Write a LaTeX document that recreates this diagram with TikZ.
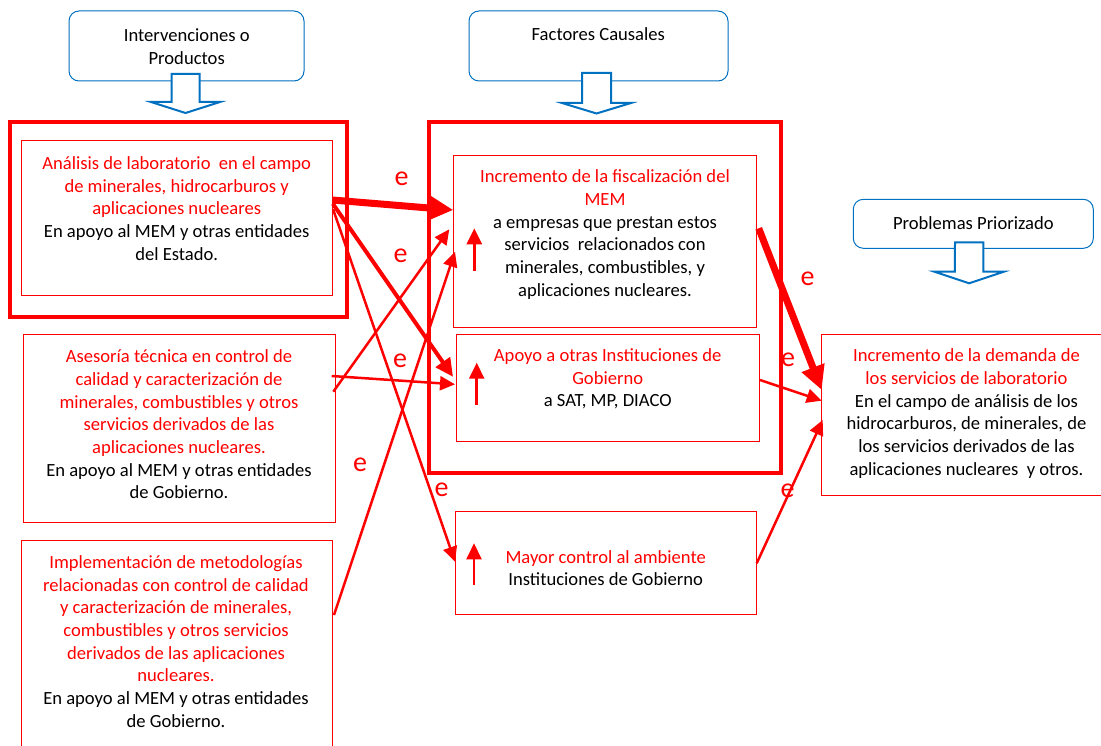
\documentclass[tikz,border=0pt]{standalone}
\usepackage{fontspec}
\setmainfont{Carlito}
\usetikzlibrary{arrows.meta,calc}
\definecolor{hdrblue}{RGB}{0,112,192}
\begin{document}
\begin{tikzpicture}[x=1pt,y=-1pt,
  every node/.style={font=\fontsize{18.6}{22.7}\selectfont, inner sep=0pt, outer sep=0pt},
  hdr/.style={draw=hdrblue, line width=1pt, rounded corners=10pt, fill=white},
  outerbox/.style={draw=red, line width=4pt},
  cbox/.style={draw=red, line width=0.9pt},
  txt/.style={align=center},
  elabel/.style={text=red, font=\fontsize{28}{30}\selectfont},
  barrow/.style={draw=hdrblue, line width=2pt, fill=white, line join=miter},
  thickarr/.style={draw=red, line width=7pt, -{Triangle[length=24pt,width=23pt]}},
  medarr/.style={draw=red, line width=4pt, -{Triangle[length=18pt,width=17pt]}},
  thinarr/.style={draw=red, line width=2.5pt, -{Triangle[length=15pt,width=14pt]}},
  uparr/.style={draw=red, line width=2.5pt, -{Triangle[length=16pt,width=15pt]}}
]
\useasboundingbox (0,0) rectangle (1101,746);

% headers
\node[hdr, minimum width=235pt, minimum height=70pt] (H1) at (186.5,46) {};
\node[txt] (H1t) at (186.7,46.7) {Intervenciones o\\Productos};
\node[hdr, minimum width=259pt, minimum height=70pt] (H2) at (598.5,46) {};
\node[txt] (H2t) at (598.3,34.3) {Factores Causales};
\node[hdr, minimum width=240pt, minimum height=49pt] (H3) at (973.3,223.8) {};
\node[txt] (H3t) at (973.3,223.3) {Problemas Priorizado};

% block arrows
\draw[barrow] ($(H1.south)+(-15,-7)$) -- ++(28,0) -- ++(0,28) -- ++(20.5,0) -- ++(-34.5,11) -- ++(-34.5,-11) -- ++(20.5,0) -- cycle;
\draw[barrow] ($(H2.south)+(-16.5,-8)$) -- ++(29,0) -- ++(0,30) -- ++(20,0) -- ++(-34.5,10.5) -- ++(-34.5,-10.5) -- ++(20,0) -- cycle;
\draw[barrow] ($(H3.south)+(-18.3,-6)$) -- ++(28.3,0) -- ++(0,29.4) -- ++(20.5,0) -- ++(-34.7,11.6) -- ++(-34.7,-11.6) -- ++(20.5,0) -- cycle;

% outer thick boxes
\node[outerbox, minimum width=337pt, minimum height=194.5pt] (OL) at (178,219.75) {};
\node[outerbox, minimum width=352.5pt, minimum height=350pt] (OM) at (604.75,297.5) {};

% content boxes
\node[cbox, minimum width=311pt, minimum height=154.6pt] (A) at (176.8,218) {};
\node[txt] (At) at (176.7,208.6) {\textcolor{red}{Análisis de laboratorio\ \ en el campo}\\\textcolor{red}{de minerales, hidrocarburos y}\\\textcolor{red}{aplicaciones nucleares}\\En apoyo al MEM y otras entidades\\del Estado.};

\node[cbox, minimum width=312pt, minimum height=188.4pt] (B) at (179.3,428.5) {};
\node[txt] (Bt) at (179,424.4) {\textcolor{red}{Asesoría técnica en control de}\\\textcolor{red}{calidad y caracterización de}\\\textcolor{red}{minerales, combustibles y otros}\\\textcolor{red}{servicios derivados de las}\\\textcolor{red}{aplicaciones nucleares.}\\En apoyo al MEM y otras entidades\\de Gobierno.};

\node[cbox, minimum width=310.7pt, minimum height=210pt] (C) at (176.65,645) {};
\node[txt] (Ct) at (176,641.5) {\textcolor{red}{Implementación de metodologías}\\\textcolor{red}{relacionadas con control de calidad}\\\textcolor{red}{y caracterización de minerales,}\\\textcolor{red}{combustibles y otros servicios}\\\textcolor{red}{derivados de las aplicaciones}\\\textcolor{red}{nucleares.}\\En apoyo al MEM y otras entidades\\de Gobierno.};

\node[cbox, minimum width=303.4pt, minimum height=172pt] (D) at (605,241.3) {};
\node[txt] (Dt) at (605,234.4) {\textcolor{red}{Incremento de la fiscalización del}\\\textcolor{red}{MEM}\\a empresas que prestan estos\\servicios\ \ relacionados con\\minerales, combustibles, y\\aplicaciones nucleares.};

\node[cbox, minimum width=303.3pt, minimum height=107.4pt] (E) at (607.65,388) {};
\node[txt] (Et) at (607.7,378.9) {\textcolor{red}{Apoyo a otras Instituciones de}\\\textcolor{red}{Gobierno}\\a SAT, MP, DIACO};

\node[cbox, minimum width=301.7pt, minimum height=102.3pt] (F) at (605.85,562.85) {};
\node[txt] (Ft) at (605.7,568) {\textcolor{red}{Mayor control al ambiente}\\Instituciones de Gobierno};

\node[cbox, minimum width=280.3pt, minimum height=160.7pt] (G) at (961.85,414.65) {};
\node[txt] (Gt) at (966.5,413.4) {\textcolor{red}{Incremento de la demanda de}\\\textcolor{red}{los servicios de laboratorio}\\En el campo de análisis de los\\hidrocarburos, de minerales, de\\los servicios derivados de las\\aplicaciones nucleares\ \ y otros.};

% small up arrows
\coordinate (Du1) at ($(D.north west)+(21,115.4)$);
\coordinate (Du2) at ($(D.north west)+(21,73)$);
\coordinate (Eu1) at ($(E.north west)+(20.7,70.7)$);
\coordinate (Eu2) at ($(E.north west)+(20.7,28.4)$);
\coordinate (Fu1) at ($(F.north west)+(19,73.3)$);
\coordinate (Fu2) at ($(F.north west)+(19,31.6)$);
\draw[uparr] (Du1) -- (Du2);
\draw[uparr] (Eu1) -- (Eu2);
\draw[uparr] (Fu1) -- (Fu2);

% connectors
\draw[thickarr] ($(A.north east)+(0,59.3)$) -- ($(D.north west)+(0,54.7)$);
\draw[medarr] ($(A.north east)+(0.5,63)$) -- ($(D.north west)+(-0.3,221.5)$);
\draw[thinarr] ($(A.north east)+(0.8,68.6)$) -- ($(F.north west)+(0,50)$);
\draw[thinarr] ($(B.north east)+(-2,57.4)$) -- ($(D.north west)+(-4,74)$);
\draw[thinarr] ($(B.north east)+(-3.6,41.7)$) -- ($(E.north west)+(-1,50)$);
\draw[thinarr] ($(C.north east)+(2,75)$) -- ($(D.north west)+(1.7,96.4)$);
\draw[thickarr] ($(D.north east)+(2,73)$) -- ($(G.north west)+(0,55.7)$);
\draw[thinarr] ($(E.north east)+(0.7,45.7)$) -- ($(G.north west)+(0,66.4)$);
\draw[thinarr] ($(F.north east)+(0,51.6)$) -- ($(G.north west)+(1,85.7)$);

% e labels
\node[elabel] (e1) at (401.5,179) {e};
\node[elabel] (e2) at (400.7,256) {e};
\node[elabel] (e3) at (400,361) {e};
\node[elabel] (e4) at (360,465) {e};
\node[elabel] (e5) at (441.5,490) {e};
\node[elabel] (e6) at (807.5,279) {e};
\node[elabel] (e7) at (788,360) {e};
\node[elabel] (e8) at (787.5,491) {e};
\end{tikzpicture}
\end{document}
